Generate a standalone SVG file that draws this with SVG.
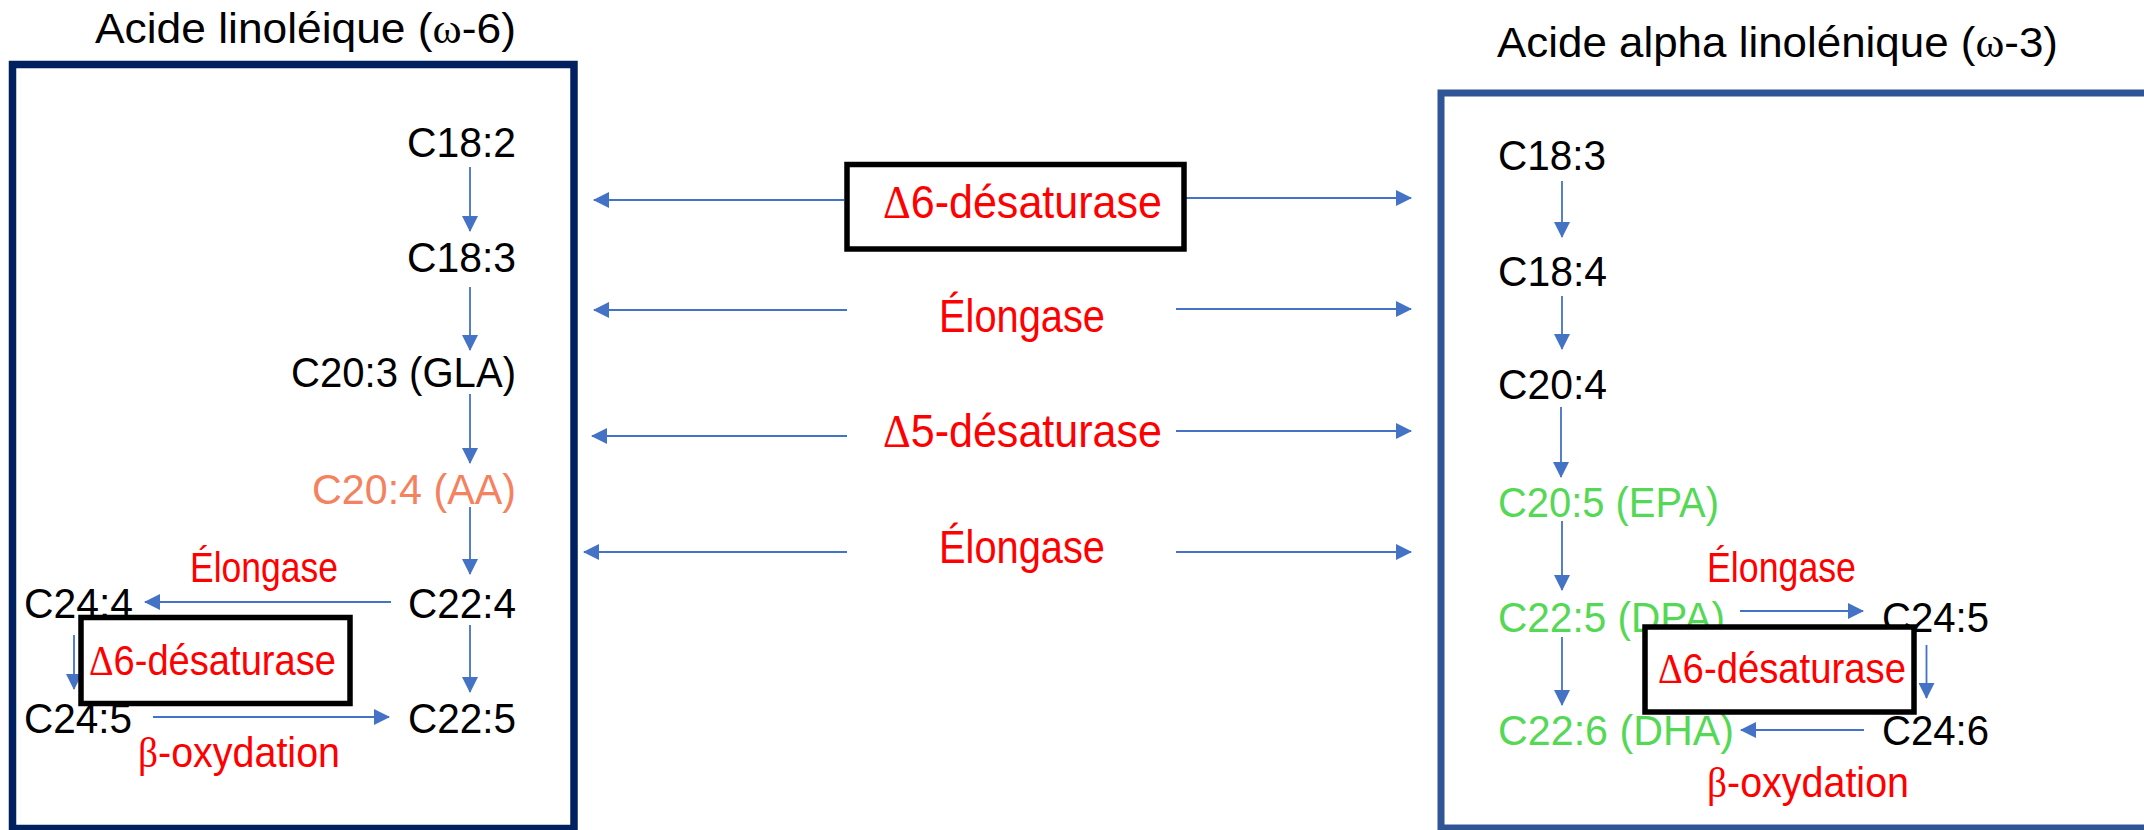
<svg xmlns="http://www.w3.org/2000/svg" width="2144" height="830" viewBox="0 0 2144 830">
  <defs>
    <marker id="arrow" markerUnits="userSpaceOnUse" markerWidth="16" markerHeight="16" refX="15" refY="8" orient="auto">
      <path d="M0,0 L16,8 L0,16 z" fill="#4472C4"/>
    </marker>
    <style>
      text { font-family: "Liberation Sans", Arial, sans-serif; font-size: 42px; fill: #000; }
      .mid { font-size: 47px; }
      .red { fill: #FF0000; }
      .aa { fill: #F4825F; }
      .green { fill: #55D855; }
      .sym { font-family: "Liberation Serif", "Times New Roman", serif; }
      .frameL { fill: none; stroke: #002060; stroke-width: 7.5; }
      .frameR { fill: none; stroke: #2F5597; stroke-width: 7; }
      .enz { fill: #fff; stroke: #000; stroke-width: 5.5; }
      .conn line { stroke: #4472C4; stroke-width: 1.8; marker-end: url(#arrow); }
    </style>
  </defs>
  <rect width="2144" height="830" fill="#fff"/>

  <!-- omega-6 pathway frame -->
  <g id="frame-omega6">
    <rect class="frameL" x="12.5" y="64.5" width="561.5" height="764"/>
    <text x="95" y="43" textLength="421" lengthAdjust="spacingAndGlyphs">Acide linoléique (<tspan class="sym">ω</tspan>-6)</text>
  </g>

  <!-- omega-3 pathway frame -->
  <g id="frame-omega3">
    <rect class="frameR" x="1441" y="93" width="720" height="735"/>
    <text x="1497" y="57" textLength="561" lengthAdjust="spacingAndGlyphs">Acide alpha linolénique (<tspan class="sym">ω</tspan>-3)</text>
  </g>

  <g id="connectors" class="conn">
    <!-- omega-6 chain -->
    <line x1="470" y1="167" x2="470" y2="231"/>
    <line x1="470" y1="287" x2="470" y2="350"/>
    <line x1="470" y1="394" x2="470" y2="463"/>
    <line x1="470" y1="507" x2="470" y2="574"/>
    <line x1="391" y1="602" x2="145" y2="602"/>
    <line x1="74" y1="635" x2="74" y2="689"/>
    <line x1="153" y1="717" x2="389" y2="717"/>
    <line x1="470" y1="625" x2="470" y2="692"/>
    <!-- shared enzymes -->
    <line x1="844" y1="200" x2="594" y2="200"/>
    <line x1="1177" y1="198" x2="1411" y2="198"/>
    <line x1="847" y1="310" x2="594" y2="310"/>
    <line x1="1176" y1="309" x2="1411" y2="309"/>
    <line x1="847" y1="436" x2="592" y2="436"/>
    <line x1="1176" y1="431" x2="1411" y2="431"/>
    <line x1="847" y1="552" x2="584" y2="552"/>
    <line x1="1176" y1="552" x2="1411" y2="552"/>
    <!-- omega-3 chain -->
    <line x1="1562" y1="181" x2="1562" y2="237"/>
    <line x1="1562" y1="296" x2="1562" y2="349"/>
    <line x1="1561" y1="407" x2="1561" y2="477"/>
    <line x1="1562" y1="521" x2="1562" y2="590"/>
    <line x1="1740" y1="611" x2="1863" y2="611"/>
    <line x1="1926.5" y1="645" x2="1926.5" y2="698"/>
    <line x1="1864" y1="730" x2="1741" y2="730"/>
    <line x1="1562" y1="637" x2="1562" y2="705"/>
  </g>

  <!-- omega-6 nodes -->
  <g id="n6-c18-2"><text x="407" y="157" textLength="109" lengthAdjust="spacingAndGlyphs">C18:2</text></g>
  <g id="n6-c18-3"><text x="407" y="272" textLength="109" lengthAdjust="spacingAndGlyphs">C18:3</text></g>
  <g id="n6-c20-3"><text x="291" y="387" textLength="225" lengthAdjust="spacingAndGlyphs">C20:3 (GLA)</text></g>
  <g id="n6-c20-4"><text class="aa" x="312" y="504" textLength="204" lengthAdjust="spacingAndGlyphs">C20:4 (AA)</text></g>
  <g id="n6-elongase"><text class="red" x="190" y="582" textLength="148" lengthAdjust="spacingAndGlyphs">Élongase</text></g>
  <g id="n6-c22-4"><text x="408" y="618" textLength="108" lengthAdjust="spacingAndGlyphs">C22:4</text></g>
  <g id="n6-c24-4"><text x="24" y="618" textLength="109" lengthAdjust="spacingAndGlyphs">C24:4</text></g>
  <g id="n6-c24-5"><text x="24" y="733" textLength="108" lengthAdjust="spacingAndGlyphs">C24:5</text></g>
  <g id="n6-c22-5"><text x="408" y="733" textLength="108" lengthAdjust="spacingAndGlyphs">C22:5</text></g>
  <g id="n6-beta"><text class="red" x="138" y="767" textLength="202" lengthAdjust="spacingAndGlyphs"><tspan class="sym">β</tspan>-oxydation</text></g>

  <!-- shared enzyme labels -->
  <g id="enz-elongase-1"><text class="red mid" x="939" y="332" textLength="166" lengthAdjust="spacingAndGlyphs">Élongase</text></g>
  <g id="enz-d5"><text class="red mid" x="883" y="447" textLength="279" lengthAdjust="spacingAndGlyphs"><tspan class="sym">Δ</tspan>5-désaturase</text></g>
  <g id="enz-elongase-2"><text class="red mid" x="939" y="563" textLength="166" lengthAdjust="spacingAndGlyphs">Élongase</text></g>

  <!-- omega-3 nodes -->
  <g id="n3-c18-3"><text x="1498" y="170" textLength="108" lengthAdjust="spacingAndGlyphs">C18:3</text></g>
  <g id="n3-c18-4"><text x="1498" y="286" textLength="109" lengthAdjust="spacingAndGlyphs">C18:4</text></g>
  <g id="n3-c20-4"><text x="1498" y="399" textLength="109" lengthAdjust="spacingAndGlyphs">C20:4</text></g>
  <g id="n3-c20-5"><text class="green" x="1498" y="517" textLength="221" lengthAdjust="spacingAndGlyphs">C20:5 (EPA)</text></g>
  <g id="n3-elongase"><text class="red" x="1707" y="582" textLength="149" lengthAdjust="spacingAndGlyphs">Élongase</text></g>
  <g id="n3-c22-5"><text class="green" x="1498" y="632" textLength="227" lengthAdjust="spacingAndGlyphs">C22:5 (DPA)</text></g>
  <g id="n3-c24-5"><text x="1882" y="632" textLength="107" lengthAdjust="spacingAndGlyphs">C24:5</text></g>
  <g id="n3-c22-6"><text class="green" x="1498" y="745" textLength="236" lengthAdjust="spacingAndGlyphs">C22:6 (DHA)</text></g>
  <g id="n3-c24-6"><text x="1882" y="745" textLength="107" lengthAdjust="spacingAndGlyphs">C24:6</text></g>
  <g id="n3-beta"><text class="red" x="1707" y="797" textLength="202" lengthAdjust="spacingAndGlyphs"><tspan class="sym">β</tspan>-oxydation</text></g>

  <!-- boxed delta-6 desaturase steps (white fill sits over neighbouring labels) -->
  <g id="enz-d6-shared">
    <rect class="enz" x="847" y="164.5" width="337" height="84.5"/>
    <text class="red mid" x="883" y="218" textLength="279" lengthAdjust="spacingAndGlyphs"><tspan class="sym">Δ</tspan>6-désaturase</text>
  </g>
  <g id="enz-d6-omega6">
    <rect class="enz" x="81" y="617.5" width="269" height="86"/>
    <text class="red" x="89" y="675" textLength="247" lengthAdjust="spacingAndGlyphs"><tspan class="sym">Δ</tspan>6-désaturase</text>
  </g>
  <g id="enz-d6-omega3">
    <rect class="enz" x="1645" y="627" width="269" height="85"/>
    <text class="red" x="1658" y="683" textLength="248" lengthAdjust="spacingAndGlyphs"><tspan class="sym">Δ</tspan>6-désaturase</text>
  </g>
</svg>
